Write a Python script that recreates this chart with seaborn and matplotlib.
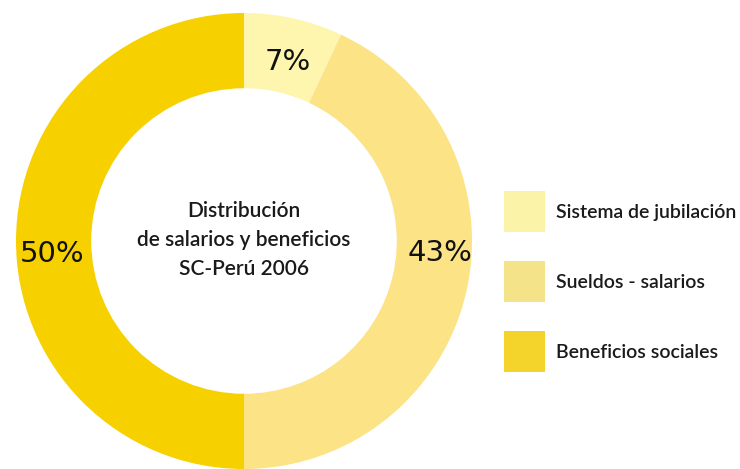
import matplotlib
matplotlib.use("Agg")
import matplotlib.pyplot as plt
import seaborn as sns
from matplotlib.patches import Rectangle

categories = ["Sistema de jubilación", "Sueldos - salarios", "Beneficios sociales"]
values = [7, 43, 50]
labels = ["7%", "43%", "50%"]
slice_colors = ["#FEF5AE", "#FBE386", "#F7D000"]
legend_colors = ["#FBF3A8", "#F5E38A", "#F4D42A"]
center_lines = ["Distribución", "de salarios y beneficios", "SC-Perú 2006"]

sns.set_theme(style="white")
plt.rcParams["font.family"] = ["Lato", "DejaVu Sans"]
pal = sns.color_palette(slice_colors)

W, H = 740, 469
fig = plt.figure(figsize=(W / 100, H / 100), dpi=100)
fig.patch.set_facecolor("white")

cx, cy, r = 244, 241, 228
ax = fig.add_axes([(cx - r) / W, (H - cy - r) / H, 2 * r / W, 2 * r / H])
ax.set_aspect("equal")
ax.pie(values, colors=pal, startangle=90, counterclock=False, radius=1,
       wedgeprops=dict(width=0.33, edgecolor="none"))
ax.set_xlim(-1, 1)
ax.set_ylim(-1, 1)
ax.axis("off")

# percent labels (pixel positions -> axes fraction)
label_px = [(288, 62), (440, 253), (52, 254)]
for (px, py), lab in zip(label_px, labels):
    ax.text((px - (cx - r)) / (2 * r), 1 - (py - (cy - r)) / (2 * r), lab,
            transform=ax.transAxes, ha="center", va="center",
            fontsize=21, color="#111111", family=["DejaVu Sans"])

for i, line in enumerate(center_lines):
    fig.text(cx / W, 1 - (211 + i * 29) / H, line, ha="center", va="center",
             fontsize=15, color="#1a1a1a", fontweight="semibold")

# legend
sq = 41
for i, (c, name) in enumerate(zip(legend_colors, categories)):
    top = 191 + i * 70
    fig.patches.append(Rectangle((504 / W, 1 - (top + sq) / H), sq / W, sq / H,
                                 transform=fig.transFigure, facecolor=c,
                                 edgecolor="none"))
    fig.text(556 / W, 1 - (top + sq / 2 + 1) / H, name, ha="left", va="center",
             fontsize=14, color="#1a1a1a", fontweight="semibold")

fig.savefig("out.png", dpi=100)
